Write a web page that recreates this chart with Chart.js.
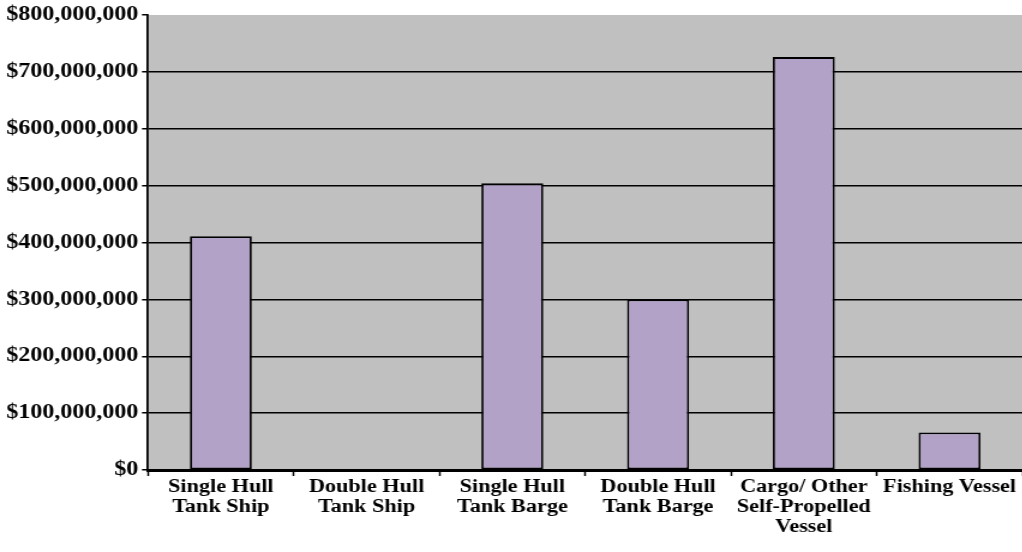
<!DOCTYPE html>
<html><head><meta charset="utf-8">
<script src="https://cdn.jsdelivr.net/npm/chart.js@4/dist/chart.umd.min.js"></script>
<style>
html,body{margin:0;padding:0;background:#fff;overflow:hidden;}
#wrap{position:absolute;left:0;top:0;width:852px;height:552px;transform:scaleX(1.2);transform-origin:0 0;}
</style></head><body>
<div id="wrap"><canvas id="c" width="852" height="552"></canvas></div>
<script>
const categories = [
  ["Single Hull", "Tank Ship"],
  ["Double Hull", "Tank Ship"],
  ["Single Hull", "Tank Barge"],
  ["Double Hull", "Tank Barge"],
  ["Cargo/ Other", "Self-Propelled", "Vessel"],
  ["Fishing Vessel"]
];
const values = [411000000, 0, 504000000, 300000000, 726000000, 66000000];
const yMin = 0;
const yMax = 800000000;
const yStep = 100000000;

const FAMILY = '"Liberation Serif", "Times New Roman", serif';
const X_FONT = {family: FAMILY, size: 18.5, weight: 'bold', lineHeight: 1.09};
const Y_FONT = {family: FAMILY, size: 20, weight: 'bold', lineHeight: 1.1};

const plotBg = {
  id: 'plotBg',
  beforeDraw(chart) {
    const {ctx, chartArea: a} = chart;
    ctx.save();
    ctx.fillStyle = '#C0C0C0';
    ctx.fillRect(a.left, a.top, a.right - a.left, a.bottom - a.top);
    ctx.restore();
  }
};

new Chart(document.getElementById('c'), {
  type: 'bar',
  data: {
    labels: categories,
    datasets: [{
      data: values,
      backgroundColor: '#B3A2C7',
      borderColor: '#000000',
      borderWidth: 1.8,
      borderSkipped: false,
      barPercentage: 0.425,
      categoryPercentage: 1.0
    }]
  },
  options: {
    responsive: false,
    animation: false,
    devicePixelRatio: 1,
    layout: {padding: {top: 15, left: 0, right: 0, bottom: 0}},
    plugins: {legend: {display: false}, tooltip: {enabled: false}, title: {display: false}},
    scales: {
      x: {
        offset: true,
        grid: {offset: true, drawOnChartArea: false, tickLength: 6, tickColor: '#000', tickWidth: 1.5},
        border: {color: '#000', width: 3},
        ticks: {color: '#000', font: X_FONT, maxRotation: 0, autoSkip: false, padding: 1},
        afterFit(s) { s.height = 82; }
      },
      y: {
        min: yMin, max: yMax,
        grid: {
          color: (c) => (c.tick && c.tick.value === yMax) ? 'rgba(0,0,0,0)' : '#000',
          lineWidth: 1.5,
          tickColor: '#000',
          tickLength: 5,
          tickWidth: 1.5
        },
        border: {color: '#000', width: 1.8},
        ticks: {
          stepSize: yStep,
          color: '#000',
          font: Y_FONT,
          padding: 3,
          callback: (v) => '$' + Number(v).toLocaleString('en-US')
        },
        afterFit(s) { s.width = 123.3; }
      }
    }
  },
  plugins: [plotBg]
});
</script>
</body></html>
